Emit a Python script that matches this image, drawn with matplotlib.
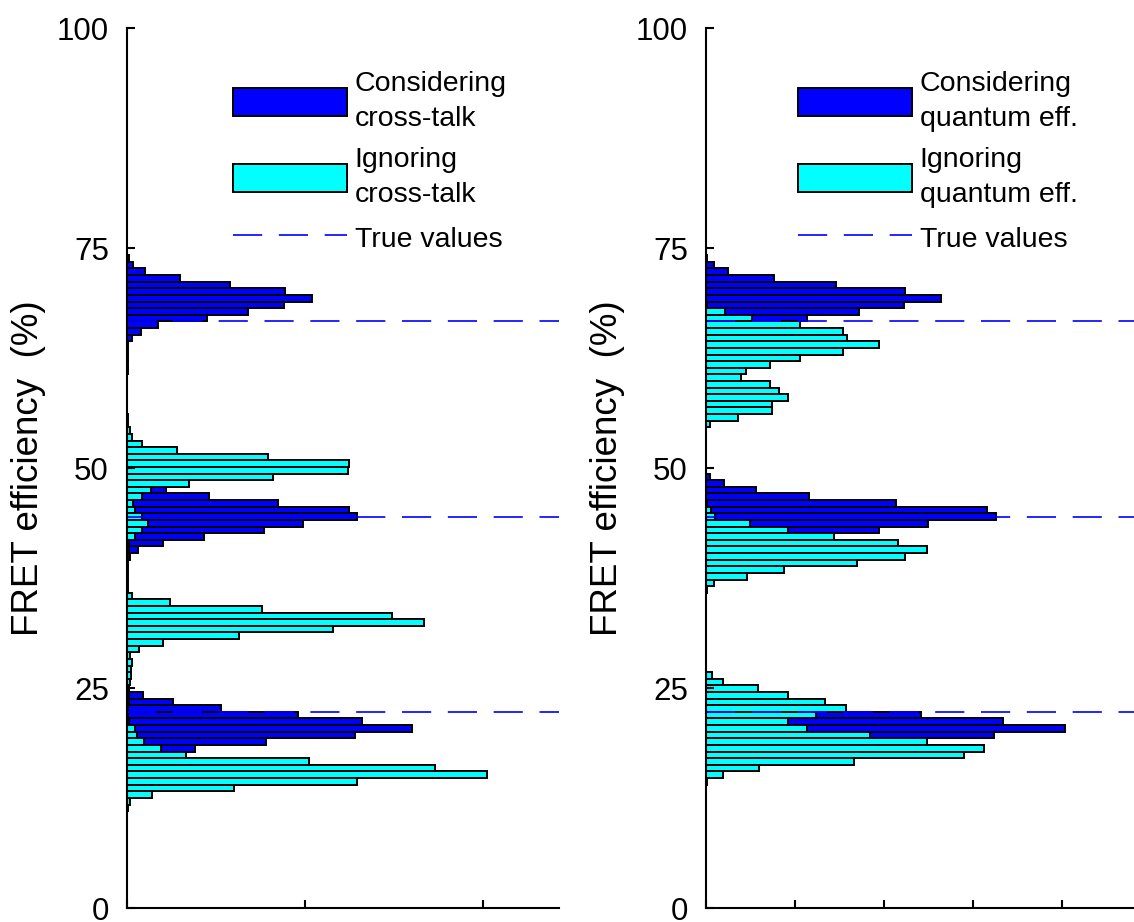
import numpy as np
import matplotlib.pyplot as plt
from matplotlib.patches import Patch
from matplotlib.lines import Line2D

plt.rcParams['font.family'] = ['Liberation Sans', 'DejaVu Sans']
plt.rcParams['lines.scale_dashes'] = False

# histogram bins (FRET efficiency, %), counted from the top bin downwards
bin_top = 73.8
bin_width = 0.752

true_values = [66.67, 44.44, 22.22]

# left panel: cross-talk
left_dark = [1.3, 3.5, 10, 30, 58, 89, 104, 88, 68, 45, 17.6, 7.7,
             2.6, 0.5, 0.5, 0.5, 0.5, 0.5, 0, 0, 0, 0, 0, 0,
             0, 0, 0, 0, 0, 0, 0, 0, 0, 0, 2, 22,
             46, 85, 125, 129, 99, 77, 43, 20, 6, 1.5, 0.5, 0.5,
             0.5, 0.5, 0, 0, 0, 0, 0, 0, 0, 0, 0, 0,
             0, 0, 0, 0, 0, 0, 9, 26, 53, 96, 132, 160,
             128, 78, 38, 12, 3, 0, 0, 0, 0, 0, 0, 0]
left_cyan = [0, 0, 0, 0, 0, 0, 0, 0, 0, 0, 0, 0,
             0, 0, 0, 0, 0, 0, 0, 0, 0, 0, 0, 0,
             0.3, 0.6, 1.7, 3.0, 8.3, 28, 79, 125, 124, 82, 35, 13.3,
             8.3, 3.5, 4.5, 8.3, 11.6, 8.3, 4.5, 1.3, 1, 1.3, 0, 0,
             0, 0, 0.8, 2.6, 24, 76, 149, 167, 116, 63, 20, 7,
             1.7, 3.0, 2.1, 2.1, 1.7, 1.0, 1.3, 1.3, 0.6, 0.6, 1.1, 4.5,
             5.4, 9.6, 19, 33, 102, 173, 202, 129, 60, 14, 1.7, 0.6]

# right panel: quantum efficiency
right_dark = [0.7, 4.7, 12.5, 38, 73, 112, 132, 111, 86, 57, 0, 0,
              0, 0, 0, 0, 0, 0, 0, 0, 0, 0, 0, 0,
              0, 0, 0, 0, 0, 0, 0, 0, 0, 2.2, 10.3, 28,
              58, 107, 158, 163, 125, 97, 0, 0, 0, 0, 0, 0,
              0, 0, 0, 0, 0, 0, 0, 0, 0, 0, 0, 0,
              0, 0, 0, 0, 0, 0, 0, 0, 0, 121, 167, 202,
              162, 0, 0, 0, 0, 0, 0, 0, 0, 0, 0, 0]
right_cyan = [0, 0, 0, 0, 0, 0, 0, 0.4, 10.7, 25.7, 53, 77,
              79, 97, 77, 53, 36, 22.5, 19.7, 36, 41, 46, 37, 37,
              18, 2.2, 0, 0, 0, 0, 0, 0, 0, 0, 0, 0,
              0, 0.7, 2.6, 5.1, 25, 46, 72, 108, 124, 112, 85, 44,
              23, 4.5, 0.6, 0, 0, 0, 0, 0, 0, 0, 0, 0,
              0, 0, 0, 3.5, 9.7, 29, 46, 67, 78.5, 62, 46, 57,
              92, 124, 156, 145, 83, 30, 9.7, 0.6, 0, 0, 0, 0]

left_labels = ['Considering\ncross-talk', 'Ignoring\ncross-talk', 'True values']
right_labels = ['Considering\nquantum eff.', 'Ignoring\nquantum eff.', 'True values']

dark_color = '#0000ff'
light_color = '#00ffff'
dash = (0, (21, 12))
edge_lw = 1.4

centers = bin_top - bin_width * np.arange(len(left_dark))

W, H = 1134, 922
fig = plt.figure(figsize=(W / 100, H / 100), dpi=100)
ax1 = fig.add_axes([127 / W, 1 - 908 / H, 432 / W, 880 / H])
ax2 = fig.add_axes([706 / W, 1 - 908 / H, 433 / W, 880 / H])


def draw_panel(ax, dark, cyan, xmax, xticks, labels, leg_x):
    ax.barh(centers, dark, height=bin_width, color=dark_color,
            edgecolor='black', linewidth=edge_lw)
    ax.barh(centers, cyan, height=bin_width, color=light_color,
            edgecolor='black', linewidth=edge_lw)
    for v in true_values:
        ax.axhline(v, color='#0000ff', linestyle=dash, linewidth=1.2)
    ax.set_xlim(0, xmax)
    ax.set_ylim(0, 100)
    ax.set_xticks(xticks)
    ax.set_xticklabels([])
    ax.set_yticks([0, 25, 50, 75, 100])
    ax.spines['top'].set_visible(False)
    ax.spines['right'].set_visible(False)
    for s in ('left', 'bottom'):
        ax.spines[s].set_linewidth(1.5)
    ax.tick_params(direction='in', length=6, width=1.5, labelsize=22.5, pad=13)
    ax.set_ylabel('FRET efficiency  (%)', fontsize=26.5, labelpad=8)

    handles = [Patch(facecolor=dark_color, edgecolor='black', linewidth=edge_lw),
               Patch(facecolor=light_color, edgecolor='black', linewidth=edge_lw),
               Line2D([], [], color='#0000ff', linestyle=dash, linewidth=1.2)]
    leg = ax.legend(handles, labels, loc='upper left', frameon=False,
                    bbox_to_anchor=(leg_x / W, 1 - 71 / H),
                    bbox_transform=fig.transFigure, fontsize=20.5,
                    handlelength=4.0, handleheight=1.15, handletextpad=0.28,
                    labelspacing=0.54, borderpad=0, borderaxespad=0)
    for t in leg.get_texts():
        t.set_linespacing(1.44)


draw_panel(ax1, left_dark, left_cyan, 242.7, [0, 100, 200], left_labels, 233)
draw_panel(ax2, right_dark, right_cyan, 243.3, [0, 50, 100, 150, 200], right_labels, 798)

fig.savefig('out.png', dpi=100)
